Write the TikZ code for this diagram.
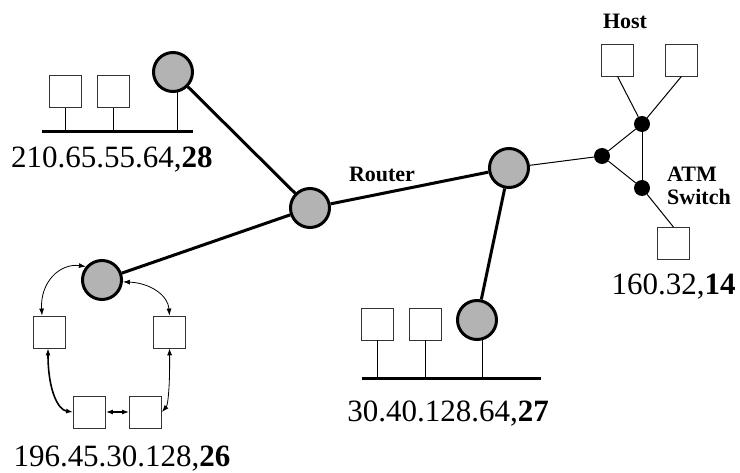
\documentclass[tikz,border=0pt]{standalone}
\usepackage{fontspec}
\setmainfont{Liberation Serif}
\usetikzlibrary{arrows.meta}
\definecolor{routergray}{RGB}{179,179,179}
\pgfdeclarelayer{bg}
\pgfsetlayers{bg,main}
\begin{document}
\begin{tikzpicture}[x=1pt,y=-1pt,
 router/.style={circle,draw,line width=3pt,fill=routergray,minimum size=39pt,inner sep=0pt},
 hostbox/.style={draw=black!80,line width=0.8pt,fill=white,minimum size=32pt,inner sep=0pt},
 atmdot/.style={circle,fill=black,minimum size=16pt,inner sep=0pt},
 link/.style={line width=3pt},
 busline/.style={line width=3pt},
 stemline/.style={line width=1pt},
 atmline/.style={line width=1pt},
 addr/.style={font=\fontsize{31}{31}\selectfont,inner sep=0pt,anchor=base},
 lab/.style={font=\fontsize{22}{23}\selectfont\bfseries,inner sep=0pt},
 ringarrow/.style={line width=0.8pt,{Latex[length=7pt,width=5pt]}-{Latex[length=7pt,width=5pt]}},
]
\useasboundingbox (0,0) rectangle (740,473);

% routers
\node[router] (r1) at (173,72) {};
\node[router] (r2) at (310,208) {};
\node[router] (r3) at (102,280) {};
\node[router] (r4) at (509,168) {};
\node[router] (r5) at (477,320) {};

% links between routers
\draw[link] (r1) -- (r2);
\draw[link] (r2) -- (r3);
\draw[link] (r2) -- (r4);
\draw[link] (r4) -- (r5);

% top-left LAN
\node[hostbox] (t1) at (65.5,91.5) {};
\node[hostbox] (t2) at (113.5,91.5) {};
\coordinate (b1a) at (42,132);
\coordinate (b1b) at (193,132);
\coordinate (s1) at (177,132);
\draw[busline] (b1a) -- (b1b);
\draw[stemline] (t1.south) -- (t1.south |- b1a);
\draw[stemline] (t2.south) -- (t2.south |- b1a);
\begin{pgfonlayer}{bg}
\draw[stemline] (s1 |- r1.center) -- (s1);
\end{pgfonlayer}
\node[addr] (l1) at (112,168) {210.65.55.64,\textbf{28}};

% bottom-right LAN
\node[hostbox] (m1) at (377.5,324) {};
\node[hostbox] (m2) at (425,324) {};
\coordinate (b2a) at (362,379);
\coordinate (b2b) at (541,379);
\coordinate (s2) at (482,379);
\draw[busline] (b2a) -- (b2b);
\draw[stemline] (m1.south) -- (m1.south |- b2a);
\draw[stemline] (m2.south) -- (m2.south |- b2a);
\begin{pgfonlayer}{bg}
\draw[stemline] (s2 |- r5.center) -- (s2);
\end{pgfonlayer}
\node[addr] (l3) at (448,422) {30.40.128.64,\textbf{27}};

% ring
\node[hostbox] (lb) at (49,332) {};
\node[hostbox] (rb) at (169.5,332) {};
\node[hostbox] (blb) at (89.5,412) {};
\node[hostbox] (brb) at (145.5,412) {};
\draw[ringarrow] ([xshift=-7pt]lb.north) .. controls (40,282) and (60,263) .. (r3.140);
\draw[ringarrow] (r3.355) .. controls (150,283) and (168,295) .. (rb.north);
\draw[ringarrow,line width=1.6pt] ([xshift=-1pt]lb.south) .. controls (48,390) and (58,410) .. (blb.west);
\draw[ringarrow,line width=1.6pt] (blb.east) -- (brb.west);
\draw[ringarrow] (rb.south) .. controls (170,385) and (168,405) .. (brb.east);
\node[addr] (l2) at (122,466) {196.45.30.128,\textbf{26}};

% ATM
\node[hostbox] (h1) at (617.5,60) {};
\node[hostbox] (h2) at (681.5,60) {};
\node[atmdot] (d1) at (642,124) {};
\node[atmdot] (d2) at (602,156) {};
\node[atmdot] (d3) at (642,188) {};
\node[hostbox] (bb) at (673.5,243.5) {};
\draw[atmline] (r4) -- (d2);
\draw[atmline] (h1.south) -- (d1);
\draw[atmline] (h2.south) -- (d1);
\draw[atmline] (d1) -- (d3);
\draw[atmline] (d2) -- (d1);
\draw[atmline] (d2) -- (d3);
\draw[atmline] (d3) -- (bb.north);
\node[lab,anchor=base] (host) at (625,29) {Host};
\node[lab,anchor=north west,align=left] (atm) at (667,167) {ATM\\Switch};
\node[addr] (l4) at (673.5,295) {160.32,\textbf{14}};

\node[lab,anchor=base] (rl) at (382,182) {Router};
\end{tikzpicture}
\end{document}
